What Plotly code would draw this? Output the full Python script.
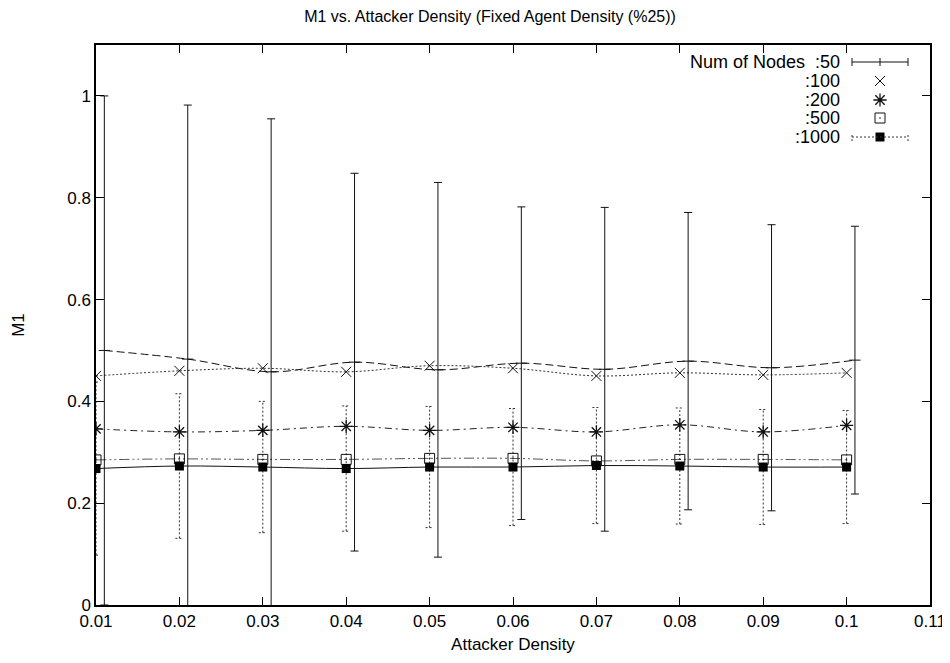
import plotly.graph_objects as go

# ---------------- data ----------------
x = [0.01, 0.02, 0.03, 0.04, 0.05, 0.06, 0.07, 0.08, 0.09, 0.10]
x50 = [0.011, 0.021, 0.031, 0.041, 0.051, 0.061, 0.071, 0.081, 0.091, 0.101]

m50 = [0.500, 0.483, 0.458, 0.477, 0.462, 0.475, 0.463, 0.479, 0.466, 0.481]
s50 = [0.500, 0.499, 0.497, 0.371, 0.368, 0.307, 0.318, 0.292, 0.281, 0.263]
m100 = [0.450, 0.460, 0.465, 0.458, 0.470, 0.465, 0.450, 0.456, 0.452, 0.456]
m200 = [0.346, 0.340, 0.343, 0.351, 0.343, 0.349, 0.340, 0.354, 0.340, 0.353]
m500 = [0.285, 0.287, 0.286, 0.286, 0.288, 0.288, 0.283, 0.286, 0.286, 0.285]
m1000 = [0.268, 0.273, 0.271, 0.268, 0.271, 0.271, 0.274, 0.273, 0.271, 0.271]
s1000 = [0.170, 0.142, 0.129, 0.123, 0.119, 0.115, 0.114, 0.114, 0.113, 0.111]

x_ticks = [0.01, 0.02, 0.03, 0.04, 0.05, 0.06, 0.07, 0.08, 0.09, 0.10, 0.11]
x_ticktext = ["0.01", "0.02", "0.03", "0.04", "0.05", "0.06", "0.07", "0.08", "0.09", "0.1", "0.11"]
y_ticks = [0, 0.2, 0.4, 0.6, 0.8, 1.0]
y_ticktext = ["0", "0.2", "0.4", "0.6", "0.8", "1"]

legend_labels = ["Num of Nodes  :50", ":100", ":200", ":500", ":1000"]

title_text = "M1 vs. Attacker Density (Fixed Agent Density (%25))"
x_title = "Attacker Density"
y_title = "M1"

# ---------------- style ----------------
FONT = "Liberation Sans, Arial, sans-serif"
INK = "#111111"
OFF = 8                       # default page body margin of the html page
W, H = 950 - OFF, 663 - OFF
ML, MR, MT, MB = 96 - OFF, 20, 45 - OFF, 58
PW, PH = W - ML - MR, H - MT - MB

fig = go.Figure()

# smooth curves (gnuplot csplines look)
curve_specs = [
    (x50, m50, "8px,4px", INK),
    (x, m100, "2px,2px", "#333333"),
    (x, m200, "7px,4px,2px,4px", "#222222"),
    (x, m500, "10px,3px,2px,3px,2px,3px", "#555555"),
    (x, m1000, "solid", INK),
]
for xs, ys, dash, col in curve_specs:
    fig.add_trace(go.Scatter(x=xs, y=ys, mode="lines",
                             line=dict(color=col, width=1, dash=dash, shape="spline", smoothing=1.0),
                             showlegend=False, hoverinfo="skip"))

# :50 error bars (solid) with + points
fig.add_trace(go.Scatter(x=x50, y=m50, mode="markers",
                         marker=dict(symbol="line-ew-open", size=8, color=INK, line=dict(color=INK, width=1)),
                         error_y=dict(type="data", array=s50, visible=True, color=INK, thickness=1, width=4),
                         showlegend=False))

# :1000 dotted error bars (built from mean +/- std)
cap = 0.00048
ex, ey = [], []
for xi, mi, si in zip(x, m1000, s1000):
    lo, hi = mi - si, mi + si
    ex += [xi, xi, None, xi - cap, xi + cap, None, xi - cap, xi + cap, None]
    ey += [lo, hi, None, lo, lo, None, hi, hi, None]
fig.add_trace(go.Scatter(x=ex, y=ey, mode="lines",
                         line=dict(color="#333333", width=1, dash="2px,2px"),
                         showlegend=False, hoverinfo="skip"))

# point markers
fig.add_trace(go.Scatter(x=x, y=m100, mode="markers",
                         marker=dict(symbol="x-thin-open", size=10, color=INK, line=dict(color=INK, width=1)),
                         showlegend=False))
fig.add_trace(go.Scatter(x=x, y=m200, mode="markers",
                         marker=dict(symbol="asterisk-open", size=11, color=INK, line=dict(color=INK, width=1.3)),
                         showlegend=False))
fig.add_trace(go.Scatter(x=x, y=m500, mode="markers",
                         marker=dict(symbol="square-open-dot", size=10, color=INK, line=dict(color=INK, width=1)),
                         showlegend=False))
fig.add_trace(go.Scatter(x=x, y=m1000, mode="markers",
                         marker=dict(symbol="square", size=9, color="#000000", line=dict(width=0)),
                         showlegend=False))

# ---------------- manual gnuplot-like key (positions in screen pixels) ----------------
def px_to_paper_x(px):
    return (px - OFF - ML) / PW

def px_to_paper_y(py):
    return (H - MB - (py - OFF)) / PH

key_text_right = px_to_paper_x(842)
key_s0 = px_to_paper_x(852)
key_s1 = px_to_paper_x(908)
key_sc = px_to_paper_x(880)
key_rows = [px_to_paper_y(v) for v in (62, 81, 100, 118, 137)]
capy = 4 / PH

annotations = []
for lbl, ry in zip(legend_labels, key_rows):
    annotations.append(dict(text=lbl, x=key_text_right, y=ry, xref="paper", yref="paper",
                            xanchor="right", yanchor="middle", showarrow=False,
                            font=dict(family=FONT, size=18, color="#000")))

shapes = []
# row 1: solid errorbar sample
r = key_rows[0]
shapes += [
    dict(type="line", xref="paper", yref="paper", x0=key_s0, x1=key_s1, y0=r, y1=r, line=dict(color=INK, width=1)),
    dict(type="line", xref="paper", yref="paper", x0=key_s0, x1=key_s0, y0=r - capy, y1=r + capy, line=dict(color=INK, width=1)),
    dict(type="line", xref="paper", yref="paper", x0=key_s1, x1=key_s1, y0=r - capy, y1=r + capy, line=dict(color=INK, width=1)),
    dict(type="line", xref="paper", yref="paper", x0=key_sc, x1=key_sc, y0=r - capy, y1=r + capy, line=dict(color=INK, width=1)),
]
# row 5: dotted errorbar sample
r = key_rows[4]
dl = dict(color="#333333", width=1, dash="2px,2px")
shapes += [
    dict(type="line", xref="paper", yref="paper", x0=key_s0, x1=key_s1, y0=r, y1=r, line=dl),
    dict(type="line", xref="paper", yref="paper", x0=key_s0, x1=key_s0, y0=r - capy, y1=r + capy, line=dl),
    dict(type="line", xref="paper", yref="paper", x0=key_s1, x1=key_s1, y0=r - capy, y1=r + capy, line=dl),
]

key_symbols = [("x-thin-open", 10, INK, 1), ("asterisk-open", 11, INK, 1.3),
               ("square-open-dot", 10, INK, 1), ("square", 9, "#000", 0)]
for (sym, sz, col, lw), ry in zip(key_symbols, key_rows[1:]):
    fig.add_trace(go.Scatter(x=[key_sc], y=[ry], xaxis="x2", yaxis="y2", mode="markers",
                             marker=dict(symbol=sym, size=sz, color=col, line=dict(color=INK, width=lw)),
                             showlegend=False, hoverinfo="skip", cliponaxis=False))

axis_common = dict(showline=True, linecolor="#000", linewidth=1.5, mirror="ticks",
                   ticks="inside", ticklen=8, tickwidth=1.2, tickcolor="#000",
                   showgrid=False, zeroline=False, automargin=False,
                   tickfont=dict(family=FONT, size=17, color="#000"))

fig.update_layout(
    width=W, height=H,
    margin=dict(l=ML, r=MR, t=MT, b=MB, autoexpand=False),
    paper_bgcolor="white", plot_bgcolor="white",
    showlegend=False,
    title=dict(text=title_text, x=(490 - OFF) / W, xref="container", xanchor="center",
               y=1 - (16 - OFF) / H, yref="container", yanchor="middle",
               font=dict(family=FONT, size=16, color="#000")),
    xaxis=dict(range=[0.01, 0.11], tickvals=x_ticks, ticktext=x_ticktext,
               title=dict(text=x_title, standoff=8, font=dict(family=FONT, size=17, color="#000")),
               **axis_common),
    yaxis=dict(range=[0, 1.1], tickvals=y_ticks, ticktext=y_ticktext,
               title=dict(text=y_title, standoff=38, font=dict(family=FONT, size=17, color="#000")),
               **axis_common),
    xaxis2=dict(overlaying="x", range=[0, 1], visible=False, fixedrange=True),
    yaxis2=dict(overlaying="y", range=[0, 1], visible=False, fixedrange=True),
    annotations=annotations,
    shapes=shapes,
)

fig.write_html("out.html")
